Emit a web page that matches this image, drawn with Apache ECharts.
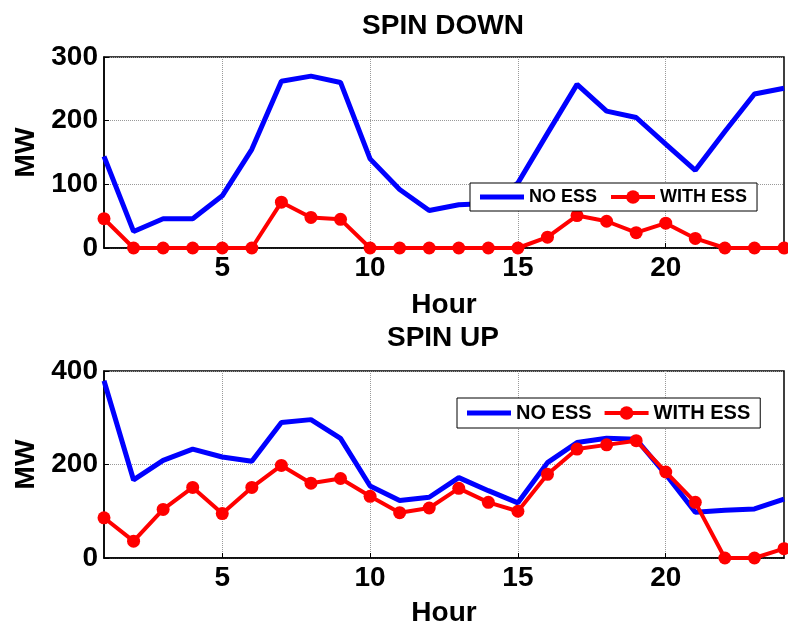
<!DOCTYPE html>
<html>
<head>
<meta charset="utf-8">
<script src="https://cdn.jsdelivr.net/npm/echarts@6/dist/echarts.min.js"></script>
<style>
  html, body { margin: 0; padding: 0; background: #fff; }
  #chart { width: 788px; height: 628px; }
</style>
</head>
<body>
<div id="chart"></div>
<script>
// hours 1..24
const hours = Array.from({ length: 24 }, (_, i) => String(i + 1))

// SPIN DOWN (MW)
const downNoEss = [144, 26, 46, 46, 82, 155, 262, 270, 260, 140, 92, 59, 68, 70, 102, 180, 257, 215, 205, 163, 122, 183, 242, 251]
const downWithEss = [46, 0, 0, 0, 0, 0, 72, 48, 45, 0, 0, 0, 0, 0, 0, 17, 51, 42, 24, 39, 15, 0, 0, 0]

// SPIN UP (MW)
const upNoEss = [379, 167, 209, 233, 216, 207, 290, 296, 256, 154, 123, 130, 172, 144, 118, 204, 247, 256, 254, 179, 98, 102, 105, 126]
const upWithEss = [86, 36, 104, 151, 95, 151, 198, 160, 170, 132, 97, 107, 149, 119, 100, 179, 233, 242, 251, 184, 119, 0, 0, 20]

const font = 'Liberation Sans, Arial, sans-serif'
const chart = echarts.init(document.getElementById('chart'))

const everyFifth = (idx, val) => Number(val) % 5 === 0

// 共用的坐标轴样式
const xAxisBase = (gridIndex, nameGap) => ({
  type: 'category',
  gridIndex,
  data: hours,
  boundaryGap: false,
  name: 'Hour',
  nameLocation: 'middle',
  nameGap,
  nameTextStyle: { fontFamily: font, fontWeight: 'bold', fontSize: 28, color: '#000' },
  axisLine: { lineStyle: { color: '#000', width: 1.5 } },
  axisTick: { show: true, inside: true, length: 5, interval: everyFifth, lineStyle: { color: '#000' } },
  axisLabel: { interval: everyFifth, margin: 6, fontFamily: font, fontWeight: 'bold', fontSize: 28, color: '#000' },
  splitLine: { show: true, interval: everyFifth, lineStyle: { color: '#999', type: 'dotted', width: 1 } }
})

const yAxisBase = (gridIndex, max, interval) => ({
  type: 'value',
  gridIndex,
  min: 0,
  max,
  interval,
  name: 'MW',
  nameLocation: 'middle',
  nameGap: 64,
  nameTextStyle: { fontFamily: font, fontWeight: 'bold', fontSize: 28, color: '#000' },
  axisLine: { show: true, lineStyle: { color: '#000', width: 1.5 } },
  axisTick: { show: true, inside: true, length: 5, lineStyle: { color: '#000' } },
  axisLabel: { margin: 6, fontFamily: font, fontWeight: 'bold', fontSize: 28, color: '#000' },
  splitLine: { show: true, lineStyle: { color: '#999', type: 'dotted', width: 1 } }
})

const blueLine = (idx, data) => ({
  name: 'NO ESS',
  type: 'line',
  xAxisIndex: idx,
  yAxisIndex: idx,
  data,
  symbol: 'none',
  clip: false,
  lineStyle: { color: '#0000ff', width: 5 },
  itemStyle: { color: '#0000ff' },
  z: 2
})

const redLine = (idx, data) => ({
  name: 'WITH ESS',
  type: 'line',
  xAxisIndex: idx,
  yAxisIndex: idx,
  data,
  symbol: 'circle',
  symbolSize: 13,
  clip: false,
  lineStyle: { color: '#ff0000', width: 4 },
  itemStyle: { color: '#ff0000' },
  z: 3
})

// 图例：蓝线只画粗线，红线画线加圆点
const legendBase = (left, top, fontSize, itemGap) => ({
  left,
  top,
  orient: 'horizontal',
  data: [
    { name: 'NO ESS', icon: 'path://M0,0H44V5H0Z' },
    { name: 'WITH ESS' }
  ],
  backgroundColor: '#fff',
  borderColor: '#000',
  borderWidth: 1,
  borderRadius: 0,
  padding: [5, 10],
  itemWidth: 44,
  itemHeight: 17,
  itemGap,
  selectedMode: false,
  symbolKeepAspect: true,
  lineStyle: { width: 'inherit' },
  textStyle: { fontFamily: font, fontWeight: 'bold', fontSize, color: '#000' }
})

const option = {
  backgroundColor: '#fff',
  animation: false,
  title: [
    {
      text: 'SPIN DOWN', left: 443, top: 12, textAlign: 'center', padding: 0,
      textStyle: { fontFamily: font, fontWeight: 'bold', fontSize: 28, color: '#000' }
    },
    {
      text: 'SPIN UP', left: 443, top: 324, textAlign: 'center', padding: 0,
      textStyle: { fontFamily: font, fontWeight: 'bold', fontSize: 28, color: '#000' }
    }
  ],
  legend: [
    legendBase(470, 183, 18, 12),
    legendBase(457, 398, 20, 11)
  ],
  grid: [
    { left: 104, right: 4, top: 57, height: 191, show: true, borderColor: '#000', borderWidth: 1.5, backgroundColor: 'transparent' },
    { left: 104, right: 4, top: 371, height: 190, show: true, borderColor: '#000', borderWidth: 1.5, backgroundColor: 'transparent' }
  ],
  xAxis: [xAxisBase(0, 43), xAxisBase(1, 41)],
  yAxis: [yAxisBase(0, 300, 100), yAxisBase(1, 400, 200)],
  series: [
    blueLine(0, downNoEss),
    redLine(0, downWithEss),
    blueLine(1, upNoEss),
    redLine(1, upWithEss)
  ]
}

chart.setOption(option)
</script>
</body>
</html>
